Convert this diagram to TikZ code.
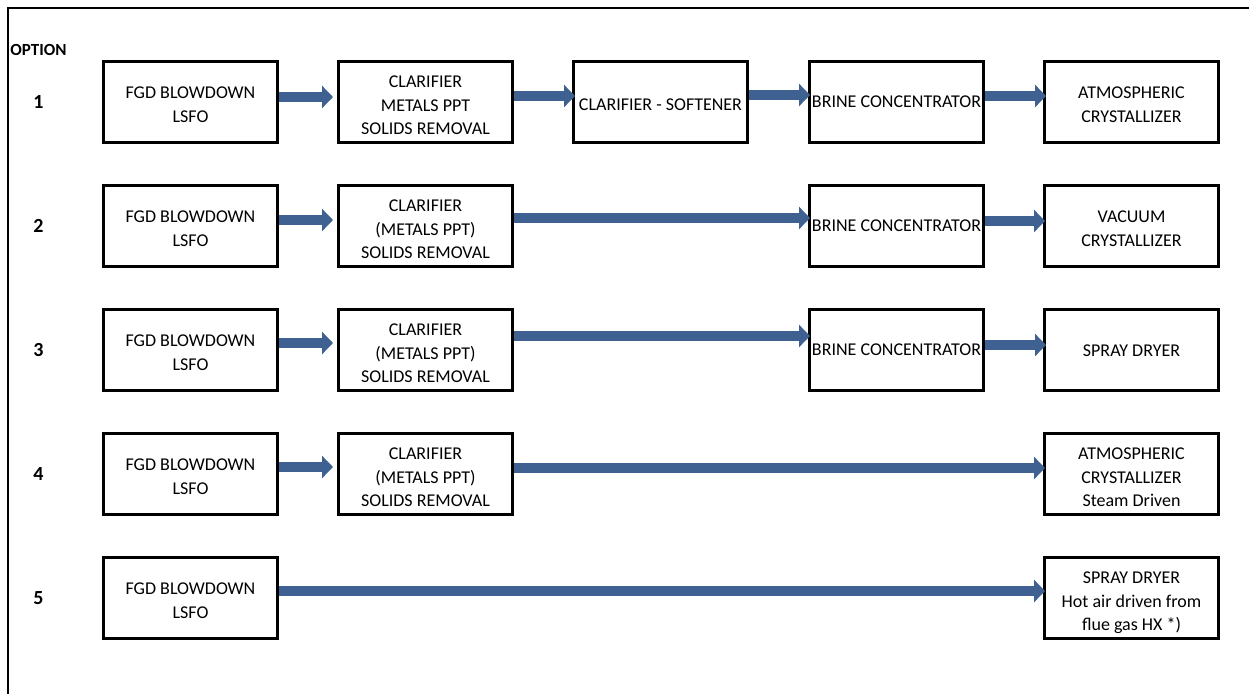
\documentclass[tikz,border=0pt]{standalone}
\usepackage{fontspec}
\setmainfont{Carlito}
\usetikzlibrary{arrows.meta}
\definecolor{flowblue}{HTML}{3E6191}
\begin{document}
\begin{tikzpicture}[x=1pt,y=-1pt,
  stage/.style={draw=black, line width=3pt, minimum width=174pt, minimum height=81pt,
    inner sep=0pt},
  stagetext/.style={inner sep=0pt, align=center, font=\fontsize{18}{23.5}\selectfont},
  flow/.style={draw=flowblue, line width=9.5pt, line cap=butt,
    -{Triangle[width=22pt,length=11pt]}},
  optnum/.style={font=\bfseries\fontsize{20}{24}\selectfont},
  opthead/.style={font=\bfseries\fontsize{17}{20}\selectfont}]
\useasboundingbox (0,0) rectangle (1249,694);
% frame
\draw[line width=2pt] (1249,8) -- (8,8) -- (8,694);

% option labels
\node[opthead] (opt) at (38.5,50) {OPTION};
\node[optnum] (n1) at (38.5,102) {1};
\node[optnum] (n2) at (38.5,226) {2};
\node[optnum] (n3) at (38.5,350) {3};
\node[optnum] (n4) at (38.5,474) {4};
\node[optnum] (n5) at (38.5,598) {5};

% option 1
\node[stage] (a1) at (190.5,102) {};
\node[stage] (a2) at (425.5,102) {};
\node[stage] (a3) at (660.5,102) {};
\node[stage] (a4) at (896.5,102) {};
\node[stage] (a5) at (1131.5,102) {};
\node[stagetext, yshift=-2.5pt] (a1t) at (a1) {FGD BLOWDOWN\\LSFO};
\node[stagetext, yshift=-3.5pt] (a2t) at (a2) {CLARIFIER\\METALS PPT\\SOLIDS REMOVAL};
\node[stagetext, yshift=-3pt] (a3t) at (a3) {CLARIFIER - SOFTENER};
\node[stagetext] (a4t) at (a4) {BRINE CONCENTRATOR};
\node[stagetext, yshift=-2.5pt] (a5t) at (a5) {ATMOSPHERIC\\CRYSTALLIZER};
\draw[flow, shorten >=4pt] ([yshift=5pt]a1.east) -- ([yshift=5pt]a2.west);
\draw[flow, shorten >=-3pt] ([yshift=6pt]a2.east) -- ([yshift=6pt]a3.west);
\draw[flow, shorten >=-2pt] ([yshift=7pt]a3.east) -- ([yshift=7pt]a4.west);
\draw[flow, shorten >=-3pt] ([yshift=6pt]a4.east) -- ([yshift=6pt]a5.west);

% option 2
\node[stage] (b1) at (190.5,226) {};
\node[stage] (b2) at (425.5,226) {};
\node[stage] (b4) at (896.5,226) {};
\node[stage] (b5) at (1131.5,226) {};
\node[stagetext, yshift=-2.5pt] (b1t) at (b1) {FGD BLOWDOWN\\LSFO};
\node[stagetext, yshift=-3.5pt] (b2t) at (b2) {CLARIFIER\\(METALS PPT)\\SOLIDS REMOVAL};
\node[stagetext] (b4t) at (b4) {BRINE CONCENTRATOR};
\node[stagetext, yshift=-2.5pt] (b5t) at (b5) {VACUUM\\CRYSTALLIZER};
\draw[flow, shorten >=4pt] ([yshift=6pt]b1.east) -- ([yshift=6pt]b2.west);
\draw[flow, shorten >=-2pt] ([yshift=8pt]b2.east) -- ([yshift=8pt]b4.west);
\draw[flow, shorten >=-2pt] ([yshift=5pt]b4.east) -- ([yshift=5pt]b5.west);

% option 3
\node[stage] (c1) at (190.5,350) {};
\node[stage] (c2) at (425.5,350) {};
\node[stage] (c4) at (896.5,350) {};
\node[stage] (c5) at (1131.5,350) {};
\node[stagetext, yshift=-2.5pt] (c1t) at (c1) {FGD BLOWDOWN\\LSFO};
\node[stagetext, yshift=-3.5pt] (c2t) at (c2) {CLARIFIER\\(METALS PPT)\\SOLIDS REMOVAL};
\node[stagetext] (c4t) at (c4) {BRINE CONCENTRATOR};
\node[stagetext, yshift=-1pt] (c5t) at (c5) {SPRAY DRYER};
\draw[flow, shorten >=4pt] ([yshift=7pt]c1.east) -- ([yshift=7pt]c2.west);
\draw[flow, shorten >=-2pt] ([yshift=14pt]c2.east) -- ([yshift=14pt]c4.west);
\draw[flow, shorten >=-3pt] ([yshift=5pt]c4.east) -- ([yshift=5pt]c5.west);

% option 4
\node[stage] (d1) at (190.5,474) {};
\node[stage] (d2) at (425.5,474) {};
\node[stage] (d5) at (1131.5,474) {};
\node[stagetext, yshift=-2.5pt] (d1t) at (d1) {FGD BLOWDOWN\\LSFO};
\node[stagetext, yshift=-3.5pt] (d2t) at (d2) {CLARIFIER\\(METALS PPT)\\SOLIDS REMOVAL};
\node[stagetext, yshift=-3.5pt] (d5t) at (d5) {ATMOSPHERIC\\CRYSTALLIZER\\Steam Driven};
\draw[flow, shorten >=4pt] ([yshift=7pt]d1.east) -- ([yshift=7pt]d2.west);
\draw[flow, shorten >=-2pt] ([yshift=6pt]d2.east) -- ([yshift=6pt]d5.west);

% option 5
\node[stage] (e1) at (190.5,598) {};
\node[stage] (e5) at (1131.5,598) {};
\node[stagetext, yshift=-2.5pt] (e1t) at (e1) {FGD BLOWDOWN\\LSFO};
\node[stagetext, yshift=-5pt] (e5t) at (e5) {SPRAY DRYER\\Hot air driven from\\flue gas HX *)};
\draw[flow, shorten >=-2pt] ([yshift=7pt]e1.east) -- ([yshift=7pt]e5.west);
\end{tikzpicture}
\end{document}
